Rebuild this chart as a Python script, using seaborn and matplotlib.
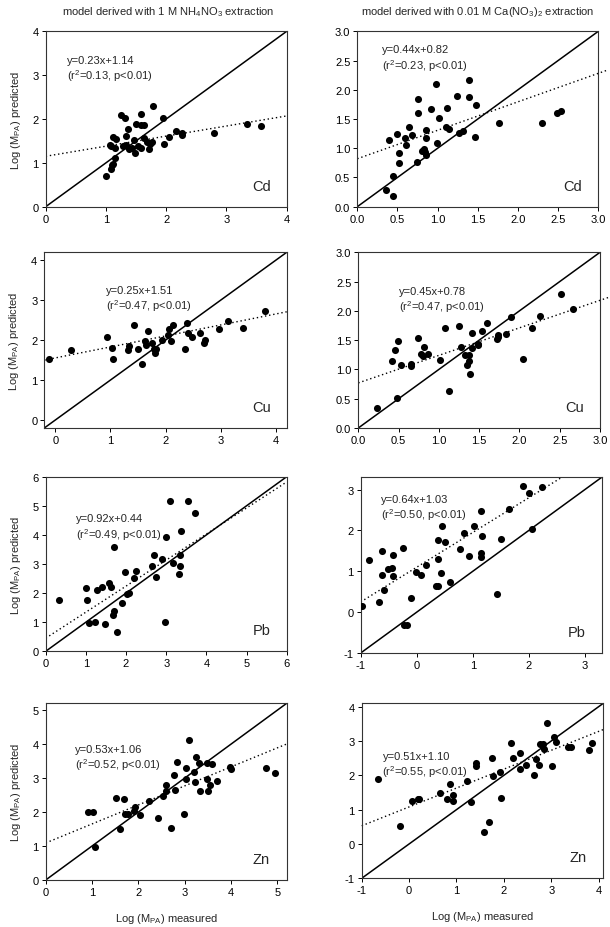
import numpy as np
import pandas as pd
import matplotlib
matplotlib.use("Agg")
import matplotlib.pyplot as plt
import seaborn as sns

# --- data (log measured, log predicted) ---
cd_nh4_x = [1.00, 1.08, 1.10, 1.11, 1.15, 1.06, 1.08, 1.11, 1.17, 1.15, 1.25, 1.32, 1.28, 1.34,
            1.34, 1.36, 1.39, 1.43, 1.46, 1.48, 1.50, 1.54, 1.58, 1.58, 1.59, 1.63, 1.63, 1.68,
            1.72, 1.73, 1.76, 1.78, 1.94, 1.96, 2.04, 2.16, 2.27, 2.27, 2.80, 3.34, 3.57]
cd_nh4_y = [0.70, 0.86, 0.94, 0.97, 1.11, 1.41, 1.38, 1.60, 1.54, 1.34, 2.08, 2.02, 1.38, 1.41,
            1.61, 1.78, 1.32, 1.34, 1.51, 1.22, 1.89, 1.39, 2.11, 1.33, 1.87, 1.86, 1.57, 1.48,
            1.32, 1.44, 1.48, 2.29, 2.02, 1.43, 1.58, 1.73, 1.68, 1.63, 1.68, 1.88, 1.84]

cd_ca_x = [0.36, 0.44, 0.45, 0.39, 0.50, 0.52, 0.52, 0.59, 0.60, 0.64, 0.68, 0.74, 0.76, 0.76,
           0.81, 0.83, 0.84, 0.85, 0.85, 0.86, 0.92, 0.98, 0.99, 1.02, 1.10, 1.12, 1.14, 1.24,
           1.27, 1.31, 1.39, 1.39, 1.46, 1.48, 1.77, 2.30, 2.48, 2.54]
cd_ca_y = [0.29, 0.19, 0.52, 1.14, 1.24, 0.92, 0.75, 1.17, 1.05, 1.37, 1.22, 0.77, 1.84, 1.61,
           0.95, 0.98, 0.93, 0.89, 1.18, 1.32, 1.67, 2.10, 1.09, 1.51, 1.36, 1.68, 1.33, 1.89,
           1.26, 1.29, 2.16, 1.87, 1.19, 1.74, 1.43, 1.44, 1.61, 1.63]

cu_nh4_x = [-0.12, 0.28, 0.94, 1.03, 1.05, 1.32, 1.34, 1.43, 1.50, 1.57, 1.62, 1.64, 1.69, 1.75,
            1.79, 1.81, 1.82, 1.93, 2.04, 2.07, 2.10, 2.13, 2.36, 2.39, 2.40, 2.49, 2.62, 2.70,
            2.71, 2.97, 3.13, 3.40, 3.80]
cu_nh4_y = [1.53, 1.76, 2.08, 1.80, 1.53, 1.75, 1.86, 2.37, 1.79, 1.41, 1.98, 1.89, 2.23, 1.93,
            1.79, 1.68, 1.78, 2.00, 2.13, 2.28, 1.97, 2.38, 1.78, 2.42, 2.19, 2.09, 2.19, 1.94,
            2.00, 2.28, 2.48, 2.30, 2.73]

cu_ca_x = [0.23, 0.48, 0.42, 0.46, 0.49, 0.53, 0.66, 0.66, 0.74, 0.78, 0.80, 0.81, 0.87, 1.01,
           1.07, 1.12, 1.25, 1.28, 1.32, 1.35, 1.37, 1.38, 1.39, 1.41, 1.41, 1.48, 1.48, 1.53,
           1.60, 1.72, 1.73, 1.74, 1.83, 1.89, 2.04, 2.16, 2.26, 2.52, 2.66]
cu_ca_y = [0.35, 0.51, 1.14, 1.33, 1.49, 1.08, 1.10, 1.06, 1.53, 1.27, 1.23, 1.39, 1.27, 1.16,
           1.71, 0.64, 1.74, 1.38, 1.24, 1.08, 1.24, 1.14, 0.93, 1.63, 1.37, 1.43, 1.41, 1.65,
           1.79, 1.52, 1.55, 1.58, 1.61, 1.90, 1.17, 1.71, 1.92, 2.29, 2.03]

pb_nh4_x = [0.34, 1.00, 1.03, 1.09, 1.22, 1.28, 1.39, 1.47, 1.58, 1.63, 1.69, 1.69, 1.68, 1.77,
            1.89, 1.98, 2.03, 2.07, 2.21, 2.25, 2.64, 2.69, 2.75, 2.89, 2.98, 2.99, 3.10, 3.16,
            3.32, 3.34, 3.35, 3.38, 3.54, 3.72]
pb_nh4_y = [1.75, 2.19, 1.76, 0.97, 1.02, 2.11, 2.21, 0.95, 2.36, 2.20, 3.60, 1.40, 1.26, 0.68,
            1.66, 2.71, 1.96, 2.00, 2.52, 2.77, 2.94, 3.30, 2.55, 3.16, 1.00, 3.93, 5.15, 3.04,
            2.67, 2.93, 3.30, 4.14, 5.15, 4.75]

pb_ca_x = [-0.98, -0.86, -0.68, -0.62, -0.62, -0.59, -0.52, -0.45, -0.43, -0.43, -0.24, -0.23,
           -0.18, -0.11, -0.01, 0.08, 0.16, 0.34, 0.38, 0.38, 0.38, 0.43, 0.45, 0.50, 0.59, 0.78,
           0.85, 0.94, 1.02, 1.14, 1.14, 1.15, 1.16, 1.44, 1.50, 1.65, 1.89, 2.00, 2.06, 2.24]
pb_ca_y = [0.14, 1.28, 0.24, 1.50, 0.92, 0.54, 1.05, 1.09, 1.39, 0.89, 1.58, -0.31, -0.31, 0.34,
           0.99, 0.92, 1.15, 0.65, 0.63, 1.76, 1.31, 0.96, 2.11, 1.71, 0.74, 1.54, 1.94, 1.37,
           2.12, 2.47, 1.44, 1.35, 1.86, 0.44, 1.78, 2.53, 3.09, 2.92, 2.04, 3.07]

zn_nh4_x = [0.91, 1.01, 1.07, 1.51, 1.61, 1.68, 1.72, 1.77, 1.90, 1.93, 2.04, 2.22, 2.42, 2.54,
            2.59, 2.60, 2.71, 2.76, 2.78, 2.84, 2.99, 3.02, 3.03, 3.09, 3.20, 3.22, 3.25, 3.30,
            3.33, 3.48, 3.49, 3.51, 3.54, 3.58, 3.69, 3.98, 3.99, 4.75, 4.95]
zn_nh4_y = [1.99, 2.01, 0.96, 2.40, 1.51, 2.39, 1.95, 1.94, 2.03, 2.16, 1.92, 2.33, 1.83, 2.47,
            2.62, 2.81, 1.53, 3.09, 2.66, 3.46, 1.93, 2.98, 3.31, 4.11, 3.18, 2.89, 3.63, 3.44,
            2.62, 3.43, 2.98, 2.61, 2.81, 3.40, 2.91, 3.32, 3.28, 3.30, 3.15]

zn_ca_x = [-0.65, -0.20, 0.06, 0.18, 0.22, 0.66, 0.80, 0.86, 0.93, 0.93, 1.22, 1.30, 1.42, 1.42,
           1.58, 1.68, 1.76, 1.77, 1.91, 1.94, 2.15, 2.20, 2.34, 2.35, 2.47, 2.63, 2.68, 2.75,
           2.77, 2.82, 2.84, 2.92, 3.02, 3.06, 3.10, 3.35, 3.42, 3.80, 3.87]
zn_ca_y = [1.88, 0.52, 1.24, 1.31, 1.30, 1.50, 1.30, 1.75, 1.42, 1.25, 1.83, 1.23, 2.35, 2.26,
           0.34, 0.64, 2.50, 1.99, 2.09, 1.33, 2.95, 2.51, 2.18, 2.66, 2.30, 2.01, 2.48, 2.30,
           2.91, 2.92, 2.78, 3.53, 2.27, 3.11, 2.96, 2.83, 2.82, 2.73, 2.95]

# dotted regression lines as drawn (slope, intercept)
fit_slope = [0.23, 0.487, 0.275, 0.47, 0.895, 0.85, 0.56, 0.55]
fit_intercept = [1.15, 0.82, 1.555, 0.77, 0.45, 1.10, 1.09, 1.08]

eq_labels = ["y=0.23x+1.14", "y=0.44x+0.82", "y=0.25x+1.51", "y=0.45x+0.78",
             "y=0.92x+0.44", "y=0.64x+1.03", "y=0.53x+1.06", "y=0.51x+1.10"]
r2_labels = ["0.13", "0.23", "0.47", "0.47", "0.49", "0.50", "0.52", "0.55"]
metals = ["Cd", "Cd", "Cu", "Cu", "Pb", "Pb", "Zn", "Zn"]

xs = [cd_nh4_x, cd_ca_x, cu_nh4_x, cu_ca_x, pb_nh4_x, pb_ca_x, zn_nh4_x, zn_ca_x]
ys = [cd_nh4_y, cd_ca_y, cu_nh4_y, cu_ca_y, pb_nh4_y, pb_ca_y, zn_nh4_y, zn_ca_y]

# --- layout ---
lims = [(0, 4), (0, 3), (-0.2, 4.2), (0, 3), (0, 6), (-1, 3.3), (0, 5.2), (-1, 4.1)]
ticks = [np.arange(0, 5, 1), np.arange(0, 3.01, 0.5), np.arange(0, 5, 1), np.arange(0, 3.01, 0.5),
         np.arange(0, 7, 1), np.arange(-1, 4, 1), np.arange(0, 6, 1), np.arange(-1, 5, 1)]
tickfmt = ["{:.0f}", "{:.1f}", "{:.0f}", "{:.1f}", "{:.0f}", "{:.0f}", "{:.0f}", "{:.0f}"]
# axes boxes in pixels: left, right, top, bottom
boxes = [(45.7, 286.7, 32.3, 207.7), (357.3, 598.3, 32.3, 207.7),
         (44.3, 286.7, 253.3, 429.0), (358.3, 600.0, 253.3, 429.0),
         (45.7, 286.7, 477.7, 652.3), (360.7, 601.7, 478.3, 654.0),
         (45.7, 286.7, 704.3, 881.0), (361.7, 603.3, 704.3, 879.3)]
text_pos = [(0.09, 0.865), (0.104, 0.925), (0.254, 0.815), (0.168, 0.81),
            (0.126, 0.79), (0.084, 0.905), (0.122, 0.77), (0.086, 0.73)]
overshoot = [0, 0.12, 0, 0.12, 0, 0, 0, 0.04]

sns.set_style("ticks")
plt.rcParams["font.family"] = ["Liberation Sans", "DejaVu Sans"]
plt.rcParams["mathtext.default"] = "regular"

W, H = 610, 928
fig = plt.figure(figsize=(W / 100, H / 100), dpi=100)

for i in range(8):
    l, r, t, b = boxes[i]
    ax = fig.add_axes([l / W, 1 - b / H, (r - l) / W, (b - t) / H])
    lo, hi = lims[i]
    df = pd.DataFrame({"measured": xs[i], "predicted": ys[i]})

    # 1:1 line
    ax.plot([lo, hi], [lo, hi], color="black", lw=1.1, zorder=2)
    # regression line (dotted)
    xx = np.array([lo, hi + overshoot[i]])
    yy = fit_slope[i] * xx + fit_intercept[i]
    if yy[1] > hi:
        xx[1] = (hi - fit_intercept[i]) / fit_slope[i]
        yy[1] = hi
    ax.plot(xx, yy, color="black", lw=1.0, ls=(0, (1, 2)), zorder=2,
            clip_on=overshoot[i] == 0)

    sns.scatterplot(data=df, x="measured", y="predicted", ax=ax, color="black",
                    s=26, edgecolor="black", linewidth=0, zorder=3, legend=False)

    ax.set_xlim(lo, hi)
    ax.set_ylim(lo, hi)
    ax.set_xticks(ticks[i])
    ax.set_yticks(ticks[i])
    ax.set_xticklabels([tickfmt[i].format(v) for v in ticks[i]])
    ax.set_yticklabels([tickfmt[i].format(v) for v in ticks[i]])
    ax.tick_params(labelsize=8, length=3, width=0.7, pad=2, colors="black")
    for sp in ax.spines.values():
        sp.set_visible(True)
        sp.set_linewidth(0.8)
        sp.set_color("#333333")

    ax.text(text_pos[i][0], text_pos[i][1],
            eq_labels[i] + "\n" + "(r$^{2}$=" + r2_labels[i] + ", p<0.01)",
            transform=ax.transAxes, ha="left", va="top", fontsize=8, linespacing=1.2)
    ax.text(0.895, 0.12, metals[i], transform=ax.transAxes, ha="center", va="center",
            fontsize=10.5)

    ax.set_xlabel("")
    ax.set_ylabel("")
    if i % 2 == 0:
        ax.set_ylabel("Log (M$_{PA}$) predicted", fontsize=8, labelpad=7)
    if i >= 6:
        ax.set_xlabel("Log (M$_{PA}$) measured", fontsize=8, labelpad=10)

fig.text(168 / W, 1 - 12 / H, "model derived with 1 M NH$_{4}$NO$_{3}$ extraction",
         ha="center", va="center", fontsize=8)
fig.text(478 / W, 1 - 12 / H, "model derived with 0.01 M Ca(NO$_{3}$)$_{2}$ extraction",
         ha="center", va="center", fontsize=8)

fig.savefig("out.png", dpi=100, facecolor="white")
